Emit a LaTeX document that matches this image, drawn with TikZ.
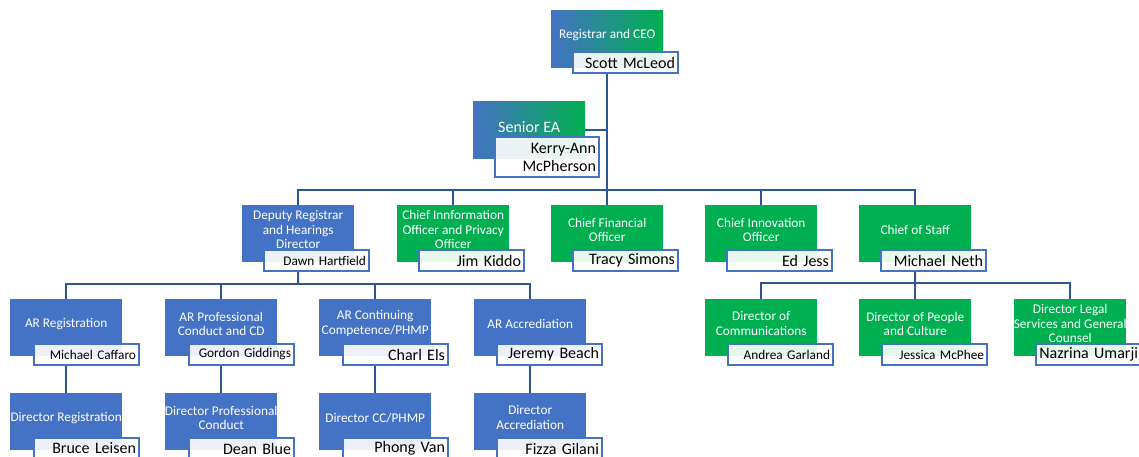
\documentclass[tikz,border=0pt]{standalone}
\usepackage{fontspec}
\setmainfont{Carlito}
\usetikzlibrary{calc}
\definecolor{orgblue}{HTML}{4472C4}
\definecolor{orggreen}{HTML}{00B050}
\definecolor{linkblue}{HTML}{2F5597}

\begin{document}
\begin{tikzpicture}[x=1pt,y=-1pt,
  role/.style={minimum width=112pt,minimum height=57pt,inner sep=0pt,anchor=north west,fill=#1},
  gradrole/.style={minimum width=112pt,minimum height=57pt,inner sep=0pt,anchor=north west,left color=orgblue,right color=orggreen},
  roletext/.style={text=white,font=\fontsize{13.3}{14.5}\selectfont,align=center,yshift=4pt},
  person/.style={draw=orgblue,line width=2pt,fill=white,fill opacity=0.9,text opacity=1,anchor=north west,minimum height=21pt,text width=99pt,inner xsep=3pt,inner ysep=0pt,align=right,font=\fontsize{16}{18}\selectfont},
  smallperson/.style={person,font=\fontsize{13.3}{15}\selectfont},
  link/.style={draw=linkblue,line width=2pt}]
\useasboundingbox (0,0) rectangle (1139,456);

\node[gradrole,label={[roletext]center:Registrar and CEO}] (ceo) at (551,10) {};
\node[person] (scott) at ([shift={(21pt,-41pt)}]ceo.north west) {Scott McLeod};
\node[gradrole,label={[roletext,font=\fontsize{16}{18}\selectfont,yshift=-1.5pt]center:Senior EA}] (ea) at (473,101) {};
\node[person,minimum height=40pt,text width=98pt] (kerry) at ([shift={(21pt,-35pt)}]ea.north west) {Kerry-Ann\\McPherson};

\node[role=orgblue,label={[roletext]center:Deputy Registrar\\and Hearings\\Director}] (dep) at (242,205) {};
\node[smallperson] (dawn) at ([shift={(21pt,-44pt)}]dep.north west) {Dawn Hartfield};
\node[role=orggreen,label={[roletext]center:Chief Innformation\\Officer and Privacy\\Officer}] (cio) at (397,205) {};
\node[person] (jim) at ([shift={(21pt,-44pt)}]cio.north west) {Jim Kiddo};
\node[role=orggreen,label={[roletext]center:Chief Financial\\Officer}] (cfo) at (551,205) {};
\node[person] (tracy) at ([shift={(21pt,-44pt)}]cfo.north west) {Tracy Simons};
\node[role=orggreen,label={[roletext]center:Chief Innovation\\Officer}] (inn) at (705,205) {};
\node[person] (ed) at ([shift={(21pt,-44pt)}]inn.north west) {Ed Jess};
\node[role=orggreen,label={[roletext]center:Chief of Staff}] (staff) at (859,205) {};
\node[person] (neth) at ([shift={(21pt,-44pt)}]staff.north west) {Michael Neth};

\node[role=orgblue,label={[roletext]center:AR Registration}] (arreg) at (10,299) {};
\node[smallperson] (caffaro) at ([shift={(23pt,-44pt)}]arreg.north west) {Michael Caffaro};
\node[role=orgblue,label={[roletext]center:AR Professional\\Conduct and CD}] (arprof) at (165,299) {};
\node[smallperson] (giddings) at ([shift={(23pt,-44pt)}]arprof.north west) {Gordon Giddings};
\node[role=orgblue,label={[roletext]center:AR Continuing\\Competence/PHMP}] (arcc) at (319,299) {};
\node[person] (els) at ([shift={(23pt,-44pt)}]arcc.north west) {Charl Els};
\node[role=orgblue,label={[roletext]center:AR Accrediation}] (aracc) at (474,299) {};
\node[person] (beach) at ([shift={(22pt,-44pt)}]aracc.north west) {Jeremy Beach};
\node[role=orggreen,label={[roletext]center:Director of\\Communications}] (dcomm) at (705,299) {};
\node[smallperson] (garland) at ([shift={(22pt,-44pt)}]dcomm.north west) {Andrea Garland};
\node[role=orggreen,label={[roletext]center:Director of People\\and Culture}] (dpeople) at (859,299) {};
\node[smallperson] (mcphee) at ([shift={(22pt,-44pt)}]dpeople.north west) {Jessica McPhee};
\node[role=orggreen,label={[roletext]center:Director Legal\\Services and General\\Counsel}] (dlegal) at (1014,299) {};
\node[person] (umarji) at ([shift={(21pt,-44pt)}]dlegal.north west) {Nazrina Umarji};

\node[role=orgblue,label={[roletext]center:Director Registration}] (dreg) at (10,393) {};
\node[person] (leisen) at ([shift={(23pt,-44pt)}]dreg.north west) {Bruce Leisen};
\node[role=orgblue,label={[roletext]center:Director Professional\\Conduct}] (dprof) at (165,393) {};
\node[person] (blue) at ([shift={(23pt,-44pt)}]dprof.north west) {Dean Blue};
\node[role=orgblue,label={[roletext]center:Director CC/PHMP}] (dcc) at (319,393) {};
\node[person] (van) at ([shift={(23pt,-44pt)}]dcc.north west) {Phong Van};
\node[role=orgblue,label={[roletext]center:Director\\Accrediation}] (dacc) at (474,393) {};
\node[person] (gilani) at ([shift={(22pt,-44pt)}]dacc.north west) {Fizza Gilani};

\coordinate (top-bus) at (607,190);
\coordinate (ar-bus) at (298,284);
\coordinate (dir-bus) at (915,283);

\draw[link] (ceo.south |- scott.south) -- (cfo.north);
\draw[link] (ea.east) -- (ea.east -| ceo.south);
\draw[link] (dep.north) -- (dep.north |- top-bus) -- (staff.north |- top-bus) -- (staff.north);
\foreach \p in {cio,inn}
	\draw[link] (\p.north) -- (\p.north |- top-bus);
\draw[link] (dep.south |- dawn.south) -- (ar-bus);
\draw[link] (arreg.north) -- (arreg.north |- ar-bus) -- (aracc.north |- ar-bus) -- (aracc.north);
\foreach \p in {arprof,arcc}
	\draw[link] (\p.north) -- (\p.north |- ar-bus);
\draw[link] (staff.south |- neth.south) -- (dir-bus);
\draw[link] (dcomm.north) -- (dcomm.north |- dir-bus) -- (dlegal.north |- dir-bus) -- (dlegal.north);
\draw[link] (dpeople.north) -- (dpeople.north |- dir-bus);
\foreach \up/\nm/\dn in {arreg/caffaro/dreg,arprof/giddings/dprof,arcc/els/dcc,aracc/beach/dacc}
	\draw[link] (\up.south |- \nm.south) -- (\dn.north);
\end{tikzpicture}
\end{document}
